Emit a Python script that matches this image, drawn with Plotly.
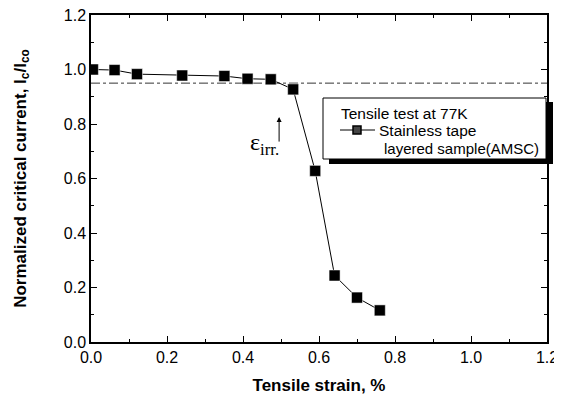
import plotly.graph_objects as go

strain = [0.005, 0.062, 0.121, 0.240, 0.351, 0.412, 0.473, 0.532, 0.590, 0.641, 0.700, 0.760]
ic_norm = [1.000, 0.998, 0.983, 0.978, 0.976, 0.966, 0.964, 0.927, 0.628, 0.244, 0.163, 0.116]
criterion_x = [0.0, 1.2]
criterion_y = [0.95, 0.95]
tick_vals = [0.0, 0.2, 0.4, 0.6, 0.8, 1.0, 1.2]
tick_text = ["0.0", "0.2", "0.4", "0.6", "0.8", "1.0", "1.2"]
legend_title = "Tensile test at 77K"
legend_line1 = "Stainless tape"
legend_line2 = "layered sample(AMSC)"

# the page body has an 8px margin; size the figure so it fits the window
OFF = 8
W, H = 562 - OFF, 403 - OFF
L, T = 91 - OFF, 15 - OFF
R = W - (547 - OFF)
B = H - (342 - OFF)
PW, PH = W - L - R, H - T - B


def px(xp):
    return (xp - OFF - L) / PW


def py(yp):
    return (H - B - (yp - OFF)) / PH


fig = go.Figure()
fig.add_trace(go.Scatter(
    x=criterion_x, y=criterion_y, mode="lines",
    line=dict(color="#333333", width=1, dash="dashdot"),
    showlegend=False, hoverinfo="skip"))
fig.add_trace(go.Scatter(
    x=strain, y=ic_norm, mode="lines+markers",
    name=legend_line1,
    line=dict(color="black", width=1),
    marker=dict(symbol="square", size=11, color="black",
                line=dict(color="white", width=0.5)),
    showlegend=False))

axis_common = dict(
    range=[0, 1.2], tickvals=tick_vals, ticktext=tick_text,
    ticks="inside", ticklen=6, tickwidth=1, tickcolor="black",
    showline=True, linecolor="black", linewidth=1.5, mirror="allticks",
    showgrid=False, zeroline=False, automargin=False,
    ticklabeloverflow="allow",
    tickfont=dict(family="Liberation Sans, Arial", size=16, color="black"),
    minor=dict(dtick=0.1, ticks="inside", ticklen=3, tickcolor="black", showgrid=False),
)

fig.update_layout(
    width=W, height=H,
    margin=dict(l=L, r=R, t=T, b=B),
    paper_bgcolor="white", plot_bgcolor="white",
    xaxis=dict(axis_common, title=dict(
        text="<b>Tensile strain, %</b>", standoff=14,
        font=dict(family="Liberation Sans, Arial", size=17, color="black"))),
    yaxis=dict(axis_common, title=dict(
        text="<b>Normalized critical current, I<sub>c</sub>/I<sub>co</sub></b>", standoff=33,
        font=dict(family="Liberation Sans, Arial", size=17, color="black"))),
    showlegend=False,
)

# legend box with drop shadow
fig.add_shape(type="rect", xref="paper", yref="paper",
              x0=px(329), x1=px(553), y0=py(164), y1=py(102),
              fillcolor="black", line=dict(width=0), layer="above")
fig.add_shape(type="rect", xref="paper", yref="paper",
              x0=px(323), x1=px(546), y0=py(159), y1=py(98),
              fillcolor="white", line=dict(color="black", width=1), layer="above")
fig.add_shape(type="line", xref="paper", yref="paper",
              x0=px(340), x1=px(375), y0=py(130), y1=py(130),
              line=dict(color="black", width=1), layer="above")
fig.add_shape(type="rect", xref="paper", yref="paper",
              x0=px(353), x1=px(361), y0=py(134), y1=py(126),
              fillcolor="#444444", line=dict(color="black", width=1.5), layer="above")
fig.add_annotation(x=px(339), y=py(113), xref="paper", yref="paper",
                   xanchor="left", yanchor="middle", showarrow=False,
                   text=legend_title,
                   font=dict(family="Liberation Sans, Arial", size=15.5, color="black"))
fig.add_annotation(x=px(377), y=py(130), xref="paper", yref="paper",
                   xanchor="left", yanchor="middle", showarrow=False,
                   text=legend_line1,
                   font=dict(family="Liberation Sans, Arial", size=15.5, color="black"))
fig.add_annotation(x=px(382), y=py(148), xref="paper", yref="paper",
                   xanchor="left", yanchor="middle", showarrow=False,
                   text=legend_line2,
                   font=dict(family="Liberation Sans, Arial", size=15, color="black"))

# irreversible strain marker
fig.add_annotation(x=0.495, y=0.826, ax=0.495, ay=0.730, xref="x", yref="y",
                   axref="x", ayref="y", text="", showarrow=True,
                   arrowhead=2, arrowsize=1, arrowwidth=1, arrowcolor="black")
fig.add_annotation(x=0.414, y=0.725, xref="x", yref="y", xanchor="left", yanchor="middle",
                   text="ε<sub>irr.</sub>", showarrow=False,
                   font=dict(family="Liberation Serif, Times New Roman", size=24, color="black"))

fig.write_html("out.html")
